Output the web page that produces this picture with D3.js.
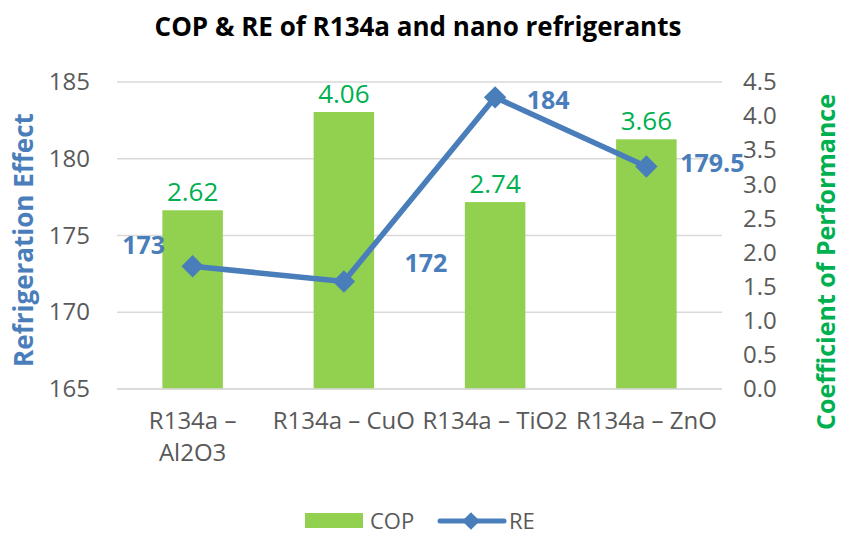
<!DOCTYPE html>
<html>
<head>
<meta charset="utf-8">
<script src="https://cdn.jsdelivr.net/npm/d3@7"></script>
<style>
  body { margin: 0; background: #fff; }
  text { font-family: "Open Sans", "Liberation Sans", sans-serif; }
</style>
</head>
<body>
<div id="container"></div>
<script>
/* CONSTANTS AND GLOBALS */
const width = 845,
  height = 534;

const categories = ["R134a – Al2O3", "R134a – CuO", "R134a – TiO2", "R134a – ZnO"];
const copValues = [2.62, 4.06, 2.74, 3.66];
const reValues = [173, 172, 184, 179.5];
const reLabels = ["173", "172", "184", "179.5"];
const leftTicks = [165, 170, 175, 180, 185];
const rightTicks = [0, 0.5, 1, 1.5, 2, 2.5, 3, 3.5, 4, 4.5];

// label offsets from each RE point (styling, not data)
const reLabelOffsets = [[-49, -12], [82, -10], [53, 12], [66, 6]];

const plot = { left: 117, right: 722, top: 82, bottom: 389 };

const green = "#92D050",
  darkGreen = "#00B050",
  blue = "#4A7EBB",
  grey = "#595959";

const svg = d3.select("#container")
  .append("svg")
  .attr("width", width)
  .attr("height", height);

/* SCALES */
const xScale = d3.scaleBand()
  .domain(categories)
  .range([plot.left, plot.right])
  .paddingInner(0.6)
  .paddingOuter(0.3);

const yLeft = d3.scaleLinear()
  .domain([165, 185])
  .range([plot.bottom, plot.top]);

const yRight = d3.scaleLinear()
  .domain([0, 4.5])
  .range([plot.bottom, plot.top]);

/* GRIDLINES */
svg.append("g")
  .selectAll("line")
  .data(leftTicks)
  .join("line")
  .attr("x1", plot.left)
  .attr("x2", plot.right)
  .attr("y1", d => yLeft(d))
  .attr("y2", d => yLeft(d))
  .attr("stroke", "#D9D9D9")
  .attr("stroke-width", 1.3);

/* BARS */
svg.selectAll(".bar")
  .data(copValues)
  .join("rect")
  .attr("class", "bar")
  .attr("x", (d, i) => xScale(categories[i]))
  .attr("y", d => yRight(d))
  .attr("width", xScale.bandwidth())
  .attr("height", d => plot.bottom - yRight(d))
  .attr("fill", green);

svg.selectAll(".cop-label")
  .data(copValues)
  .join("text")
  .attr("class", "cop-label")
  .attr("x", (d, i) => xScale(categories[i]) + xScale.bandwidth() / 2)
  .attr("y", d => yRight(d) - 9)
  .attr("text-anchor", "middle")
  .attr("fill", darkGreen)
  .style("font-size", "26px")
  .text(d => d.toFixed(2));

/* AXES */
const axisL = svg.append("g")
  .attr("transform", `translate(${plot.left},0)`)
  .call(d3.axisLeft(yLeft).tickValues(leftTicks).tickSize(0).tickPadding(27));
axisL.select(".domain").remove();
axisL.selectAll("text").style("font-size", "24px").attr("fill", grey);

const axisR = svg.append("g")
  .attr("transform", `translate(${plot.right},0)`)
  .call(d3.axisRight(yRight).tickValues(rightTicks).tickFormat(d3.format(".1f")).tickSize(0).tickPadding(21));
axisR.select(".domain").remove();
axisR.selectAll("text").style("font-size", "24px").attr("fill", grey);

svg.append("line")
  .attr("x1", plot.left).attr("x2", plot.right)
  .attr("y1", plot.bottom).attr("y2", plot.bottom)
  .attr("stroke", "#D9D9D9").attr("stroke-width", 1.3);

// category labels (first one wraps)
const catLines = [["R134a –", "Al2O3"], ["R134a – CuO"], ["R134a – TiO2"], ["R134a – ZnO"]];
svg.selectAll(".cat")
  .data(categories)
  .join("text")
  .attr("class", "cat")
  .attr("text-anchor", "middle")
  .attr("fill", grey)
  .style("font-size", "24px")
  .each(function(d, i) {
    d3.select(this).selectAll("tspan")
      .data(catLines[i])
      .join("tspan")
      .attr("x", xScale(d) + xScale.bandwidth() / 2)
      .attr("y", (t, j) => 429 + j * 32)
      .text(t => t);
  });

/* LINE */
const line = d3.line()
  .x((d, i) => xScale(categories[i]) + xScale.bandwidth() / 2)
  .y(d => yLeft(d));

svg.append("path")
  .datum(reValues)
  .attr("d", line)
  .attr("fill", "none")
  .attr("stroke", blue)
  .attr("stroke-width", 5.5)
  .attr("stroke-linejoin", "round");

const diamond = d3.symbol().type(d3.symbolDiamond2).size(320);
svg.selectAll(".marker")
  .data(reValues)
  .join("path")
  .attr("class", "marker")
  .attr("d", diamond)
  .attr("transform", (d, i) => `translate(${xScale(categories[i]) + xScale.bandwidth() / 2},${yLeft(d)})`)
  .attr("fill", blue);

svg.selectAll(".re-label")
  .data(reValues)
  .join("text")
  .attr("class", "re-label")
  .attr("x", (d, i) => xScale(categories[i]) + xScale.bandwidth() / 2 + reLabelOffsets[i][0])
  .attr("y", (d, i) => yLeft(d) + reLabelOffsets[i][1])
  .attr("text-anchor", "middle")
  .attr("fill", blue)
  .style("font-size", "25px")
  .style("font-weight", "bold")
  .text((d, i) => reLabels[i]);

/* TITLES */
svg.append("text")
  .attr("x", 418).attr("y", 36)
  .attr("text-anchor", "middle")
  .style("font-size", "26px")
  .style("font-weight", "bold")
  .attr("fill", "#000")
  .text("COP & RE of R134a and nano refrigerants");

svg.append("text")
  .attr("transform", `translate(33,240) rotate(-90)`)
  .attr("text-anchor", "middle")
  .style("font-size", "26px")
  .style("font-weight", "bold")
  .attr("fill", blue)
  .text("Refrigeration Effect");

svg.append("text")
  .attr("transform", `translate(835,262) rotate(-90)`)
  .attr("text-anchor", "middle")
  .style("font-size", "25px")
  .style("font-weight", "bold")
  .attr("fill", darkGreen)
  .text("Coefficient of Performance");

/* LEGEND */
const legend = svg.append("g");
legend.append("rect")
  .attr("x", 305).attr("y", 513).attr("width", 58).attr("height", 15)
  .attr("fill", green);
legend.append("text")
  .attr("x", 370).attr("y", 529)
  .attr("fill", grey).style("font-size", "22px")
  .text("COP");
legend.append("line")
  .attr("x1", 440).attr("x2", 504).attr("y1", 521).attr("y2", 521)
  .attr("stroke", blue).attr("stroke-width", 5).attr("stroke-linecap", "round");
legend.append("path")
  .attr("d", d3.symbol().type(d3.symbolDiamond2).size(200))
  .attr("transform", "translate(471,521)")
  .attr("fill", blue);
legend.append("text")
  .attr("x", 509).attr("y", 529)
  .attr("fill", grey).style("font-size", "22px")
  .text("RE");
</script>
</body>
</html>
